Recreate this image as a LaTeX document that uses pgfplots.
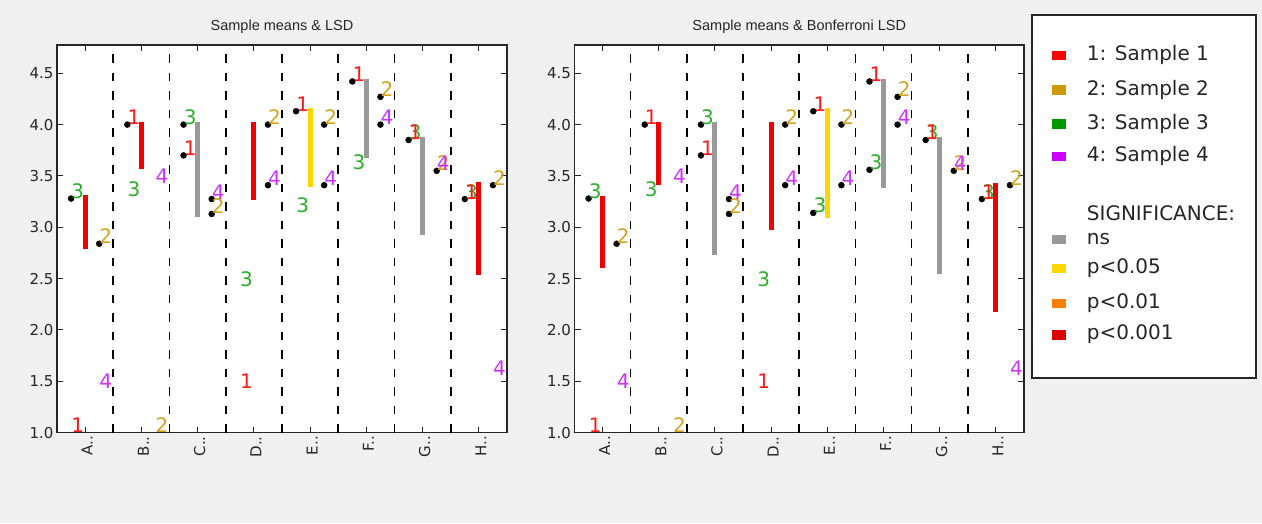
\documentclass[border=0pt]{standalone}
\usepackage{fontspec}
\setmainfont{DejaVu Sans}
\newfontfamily\titlef{Liberation Sans}
\usepackage{pgfplots}
\pgfplotsset{compat=1.18}
\usepackage{pgfplotstable}

\definecolor{bg}{HTML}{F0F0F0}
\definecolor{labA}{HTML}{FF1A1A}
\definecolor{labB}{HTML}{D9A21E}
\definecolor{labC}{HTML}{2DB02D}
\definecolor{labD}{HTML}{CC33FF}
\definecolor{patA}{HTML}{FF0000}
\definecolor{patB}{HTML}{CC9900}
\definecolor{patC}{HTML}{009900}
\definecolor{patD}{HTML}{CC00FF}
\definecolor{sigNS}{HTML}{999999}
\definecolor{sigA}{HTML}{FFD700}
\definecolor{sigB}{HTML}{FF8000}
\definecolor{sigC}{HTML}{DD0000}
\definecolor{barred}{HTML}{F00000}
\definecolor{frame}{HTML}{262626}

% means of sample 1..4 (label positions: -0.25 / +0.25 around each category)
\pgfplotstableread{
x y
-0.25 1.00
0.75 4.00
1.75 3.70
2.75 1.43
3.75 4.13
4.75 4.42
5.75 3.85
6.75 3.275
}\labOne
\pgfplotstableread{
x y
0.25 2.84
1.25 1.00
2.25 3.13
3.25 4.00
4.25 4.00
5.25 4.27
6.25 3.55
7.25 3.41
}\labTwo
\pgfplotstableread{
x y
-0.25 3.28
0.75 3.30
1.75 4.00
2.75 2.42
3.75 3.14
4.75 3.56
5.75 3.85
6.75 3.275
}\labThree
\pgfplotstableread{
x y
0.25 1.435
1.25 3.43
2.25 3.275
3.25 3.41
4.25 3.41
5.25 4.00
6.25 3.55
7.25 1.56
}\labFour
% compared means (black dots)
\pgfplotstableread{
x y
-0.25 3.28
0.25 2.84
0.75 4.00
1.75 4.00
1.75 3.70
2.25 3.275
2.25 3.13
3.25 4.00
3.25 3.41
3.75 4.13
4.25 4.00
4.25 3.41
4.75 4.42
5.25 4.27
5.25 4.00
5.75 3.85
6.25 3.55
6.75 3.275
7.25 3.41
}\dotsL
\pgfplotstableread{
x y
-0.25 3.28
0.25 2.84
0.75 4.00
1.75 4.00
1.75 3.70
2.25 3.275
2.25 3.13
3.25 4.00
3.25 3.41
3.75 4.13
3.75 3.14
4.25 4.00
4.25 3.41
4.75 4.42
4.75 3.56
5.25 4.27
5.25 4.00
5.75 3.85
6.25 3.55
6.75 3.275
7.25 3.41
}\dotsR

\newcommand\labfont{\fontsize{20}{20}\selectfont}
\pgfplotsset{
  panel/.style={
    scale only axis, height=387.7pt,
    anchor=south west,
    xmin=-0.5, xmax=7.5, ymin=1, ymax=4.775,
    clip=false,
    axis background/.style={fill=white},
    xtick={0,...,7},
    xticklabels={A..,B..,C..,D..,E..,F..,G..,H..},
    ytick={1,1.5,2,2.5,3,3.5,4,4.5},
    yticklabel style={/pgf/number format/fixed, /pgf/number format/precision=1, /pgf/number format/fixed zerofill},
    /pgf/number format/assume math mode=true,
    tick label style={font=\fontsize{15}{15}\selectfont, text=black!85},
    x tick label style={rotate=90, anchor=east, yshift=-2pt},
    tick align=inside, tick pos=both,
    major tick length=6pt,
    tick style={line width=1pt, color=frame},
    axis line style={line width=1.5pt, color=frame},
    title style={at={(0.5,1)}, anchor=base, yshift=8pt,
      font=\titlef\fontsize{14.5}{14.5}\selectfont, text=black!85},
  },
  lab/.style 2 args={only marks, mark=text, text mark={#1}, text mark as node=true,
    text mark style={anchor=base west, inner sep=0pt, text=#2, font=\labfont}},
  dotsst/.style={only marks, mark=*, mark size=3pt, color=black},
  sbar/.style={line width=5pt, color=#1},
  catsepline/.style={draw=black, line width=1.6pt, dash pattern=on 8.5pt off 10pt},
}

\newcommand\separators{%
  \addplot[catsepline] coordinates {(0.5,1) (0.5,4.775)};
  \addplot[catsepline] coordinates {(1.5,1) (1.5,4.775)};
  \addplot[catsepline] coordinates {(2.5,1) (2.5,4.775)};
  \addplot[catsepline] coordinates {(3.5,1) (3.5,4.775)};
  \addplot[catsepline] coordinates {(4.5,1) (4.5,4.775)};
  \addplot[catsepline] coordinates {(5.5,1) (5.5,4.775)};
  \addplot[catsepline] coordinates {(6.5,1) (6.5,4.775)};
}
\newcommand\labels{%
  \addplot[lab={3}{labC}] table {\labThree};
  \addplot[lab={2}{labB}] table {\labTwo};
  \addplot[lab={1}{labA}] table {\labOne};
  \addplot[lab={4}{labD}] table {\labFour};
}

\begin{document}
\begin{tikzpicture}
\path[use as bounding box, fill=bg] (0pt,0pt) rectangle (1262pt,523pt);

% ---------- left panel ----------
\begin{axis}[panel, width=450pt, at={(57pt,90.3pt)}, title={Sample means \& LSD}]
  \separators
  \addplot[sbar=barred] coordinates {(0,2.79) (0,3.31)};
  \addplot[sbar=barred] coordinates {(1,3.57) (1,4.03)};
  \addplot[sbar=sigNS] coordinates {(2,3.10) (2,4.03)};
  \addplot[sbar=barred] coordinates {(3,3.265) (3,4.03)};
  \addplot[sbar=sigA] coordinates {(4,3.395) (4,4.157)};
  \addplot[sbar=sigNS] coordinates {(5,3.67) (5,4.448)};
  \addplot[sbar=sigNS] coordinates {(6,2.925) (6,3.88)};
  \addplot[sbar=barred] coordinates {(7,2.536) (7,3.443)};
  \addplot[dotsst] table {\dotsL};
  \labels
\end{axis}

% ---------- right panel ----------
\begin{axis}[panel, width=449.5pt, at={(574.5pt,90.3pt)}, title={Sample means \& Bonferroni LSD}]
  \separators
  \addplot[sbar=barred] coordinates {(0,2.60) (0,3.307)};
  \addplot[sbar=barred] coordinates {(1,3.41) (1,4.027)};
  \addplot[sbar=sigNS] coordinates {(2,2.73) (2,4.027)};
  \addplot[sbar=barred] coordinates {(3,2.97) (3,4.027)};
  \addplot[sbar=sigA] coordinates {(4,3.087) (4,4.157)};
  \addplot[sbar=sigNS] coordinates {(5,3.38) (5,4.448)};
  \addplot[sbar=sigNS] coordinates {(6,2.55) (6,3.88)};
  \addplot[sbar=barred] coordinates {(7,2.18) (7,3.433)};
  \addplot[dotsst] table {\dotsR};
  \labels
\end{axis}

% ---------- legend ----------
\draw[frame, line width=1.5pt, fill=white] (1032pt,145pt) rectangle (1256pt,508pt);
\fill[patA] (1052pt,463.05pt) rectangle (1066pt,472.35pt);
\fill[patB] (1052pt,428.35pt) rectangle (1066pt,437.65pt);
\fill[patC] (1052pt,394.35pt) rectangle (1066pt,403.65pt);
\fill[patD] (1052pt,361.65pt) rectangle (1066pt,370.95pt);
\fill[sigNS] (1052pt,279.05pt) rectangle (1066pt,288.35pt);
\fill[sigA] (1052pt,250.05pt) rectangle (1066pt,259.35pt);
\fill[sigB] (1052pt,215.05pt) rectangle (1066pt,224.35pt);
\fill[sigC] (1052pt,183.35pt) rectangle (1066pt,192.65pt);
\begin{scope}[every node/.style={anchor=base west, inner sep=0pt, text=black!85, font=\labfont}]
\node at (1086.7pt,462.4pt) {1: Sample 1};
\node at (1086.7pt,427.7pt) {2: Sample 2};
\node at (1086.7pt,393.7pt) {3: Sample 3};
\node at (1086.7pt,361pt) {4: Sample 4};
\node at (1086.7pt,302.3pt) {SIGNIFICANCE:};
\node at (1086.7pt,278.2pt) {ns};
\node at (1086.7pt,249.2pt) {p<0.05};
\node at (1086.7pt,214.2pt) {p<0.01};
\node at (1086.7pt,183pt) {p<0.001};
\end{scope}
\end{tikzpicture}
\end{document}
